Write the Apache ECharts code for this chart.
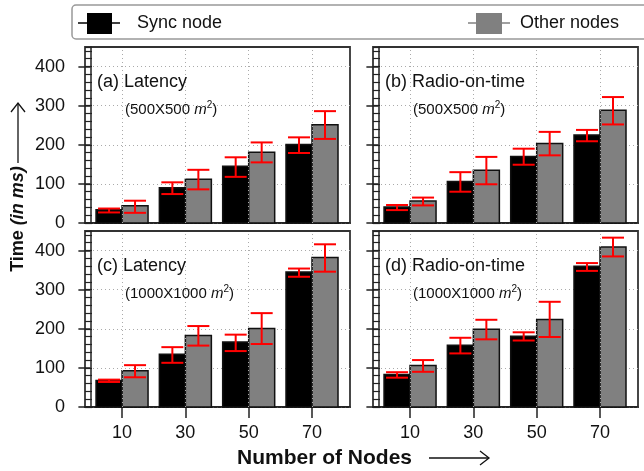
<!DOCTYPE html>
<html>
<head>
<meta charset="utf-8">
<script src="https://cdn.jsdelivr.net/npm/echarts@6/dist/echarts.min.js"></script>
<style>
  html, body { margin: 0; padding: 0; background: #fff; }
  #main { width: 644px; height: 471px; }
</style>
</head>
<body>
<div id="main"></div>
<script>
  // number of nodes (x positions)
  var nodes = [10, 30, 50, 70];
  var yTicks = [0, 100, 200, 300, 400];

  // (a) Latency 500x500
  var latSmallSync = [34, 90, 145, 201];
  var latSmallSyncErr = [[27, 37], [74, 104], [118, 168], [179, 219]];
  var latSmallOther = [44, 112, 181, 251];
  var latSmallOtherErr = [[26, 57], [86, 136], [155, 206], [215, 286]];

  // (b) Radio-on-time 500x500
  var radioSmallSync = [41, 106, 170, 225];
  var radioSmallSyncErr = [[33, 46], [80, 130], [149, 190], [209, 238]];
  var radioSmallOther = [56, 135, 203, 288];
  var radioSmallOtherErr = [[45, 65], [99, 169], [173, 233], [252, 322]];

  // (c) Latency 1000x1000
  var latBigSync = [68, 135, 166, 345];
  var latBigSyncErr = [[64, 70], [113, 153], [143, 185], [333, 354]];
  var latBigOther = [93, 183, 201, 382];
  var latBigOtherErr = [[76, 107], [157, 207], [161, 240], [346, 416]];

  // (d) Radio-on-time 1000x1000
  var radioBigSync = [83, 158, 181, 360];
  var radioBigSyncErr = [[75, 89], [137, 177], [170, 191], [348, 368]];
  var radioBigOther = [106, 199, 224, 409];
  var radioBigOtherErr = [[90, 120], [173, 223], [179, 269], [385, 433]];

  var panelTitles = ['(a) Latency', '(b) Radio-on-time', '(c) Latency', '(d) Radio-on-time'];
  var panelAreas = ['500X500', '500X500', '1000X1000', '1000X1000'];

  var FONT = 'Liberation Sans, Arial, sans-serif';

  // grid boxes: [left, top]
  var grids = [[85, 47], [373, 47], [85, 231], [373, 231]];
  var GW = 265, GH = 176;

  var panels = [
    [latSmallSync, latSmallSyncErr, latSmallOther, latSmallOtherErr],
    [radioSmallSync, radioSmallSyncErr, radioSmallOther, radioSmallOtherErr],
    [latBigSync, latBigSyncErr, latBigOther, latBigOtherErr],
    [radioBigSync, radioBigSyncErr, radioBigOther, radioBigOtherErr]
  ];

  function makeRows(mean, err) {
    return nodes.map(function (n, i) {
      return [n, mean[i], err[i][0], err[i][1]];
    });
  }

  // side: -1 = bar left of the tick, 1 = bar right of the tick
  function barRenderer(side, color) {
    return function (params, api) {
      var x = api.value(0);
      var base = api.coord([x, 0]);
      var top = api.coord([x, api.value(1)]);
      var lo = api.coord([x, api.value(2)]);
      var hi = api.coord([x, api.value(3)]);
      var w = 26;
      var x0 = side < 0 ? base[0] - w : base[0];
      var cx = x0 + w / 2;
      var cap = 11;
      var red = { stroke: '#ff0000', lineWidth: 2 };
      return {
        type: 'group',
        children: [
          { type: 'rect', shape: { x: x0, y: top[1], width: w, height: base[1] - top[1] },
            style: { fill: color, stroke: '#111', lineWidth: 1.5 } },
          { type: 'line', shape: { x1: cx, y1: lo[1], x2: cx, y2: hi[1] }, style: red },
          { type: 'line', shape: { x1: cx - cap, y1: lo[1], x2: cx + cap, y2: lo[1] }, style: red },
          { type: 'line', shape: { x1: cx - cap, y1: hi[1], x2: cx + cap, y2: hi[1] }, style: red }
        ]
      };
    };
  }

  var gridOpt = [], xAxes = [], yAxes = [], series = [], graphics = [];

  grids.forEach(function (g, i) {
    var isBottom = i >= 2, isLeft = i % 2 === 0;
    gridOpt.push({ left: g[0], top: g[1], width: GW, height: GH, show: true,
      borderColor: '#333', borderWidth: 1.8, backgroundColor: '#fff' });

    xAxes.push({
      type: 'value', gridIndex: i, min: -1.7, max: 82,
      axisLine: { show: true, lineStyle: { color: '#222', width: 1.5 } },
      axisTick: { show: isBottom, length: 11, customValues: nodes, lineStyle: { color: '#222', width: 1.5 } },
      axisLabel: { show: isBottom, customValues: nodes, margin: 17, color: '#111', fontSize: 18, fontFamily: FONT },
      splitLine: { show: false }
    });

    yAxes.push({
      type: 'value', gridIndex: i, min: 0, max: 450, interval: 100, position: 'left',
      axisLine: { show: true, lineStyle: { color: '#222', width: 1.5 } },
      axisTick: { show: true, length: 12, customValues: yTicks, lineStyle: { color: '#222', width: 1.5 } },
      axisLabel: { show: isLeft, customValues: yTicks, margin: 20, color: '#111', fontSize: 18, fontFamily: FONT },
      splitLine: { show: true, lineStyle: { color: '#aaa', type: [1, 3], width: 1 } }
    });
    yAxes.push({
      type: 'value', gridIndex: i, min: 0, max: 450, interval: 20, position: 'left', offset: 0,
      axisLine: { show: false },
      axisTick: { show: true, inside: true, length: 7, lineStyle: { color: '#222', width: 1.2 } },
      axisLabel: { show: false },
      splitLine: { show: false }
    });

    // vertical dotted grid lines at the node counts
    series.push({
      type: 'line', xAxisIndex: i, yAxisIndex: i * 2, data: [], z: 1, silent: true,
      markLine: {
        silent: true, symbol: 'none', label: { show: false },
        lineStyle: { color: '#aaa', type: [1, 3], width: 1 },
        data: nodes.map(function (n) { return { xAxis: n }; })
      }
    });

    var p = panels[i];
    series.push({
      name: 'Sync node', type: 'custom', xAxisIndex: i, yAxisIndex: i * 2,
      renderItem: barRenderer(-1, '#000'), encode: { x: 0, y: 1 },
      itemStyle: { color: '#000' }, data: makeRows(p[0], p[1]), z: 3
    });
    series.push({
      name: 'Other nodes', type: 'custom', xAxisIndex: i, yAxisIndex: i * 2,
      renderItem: barRenderer(1, '#808080'), encode: { x: 0, y: 1 },
      itemStyle: { color: '#808080' }, data: makeRows(p[2], p[3]), z: 3
    });

    graphics.push({
      type: 'text', left: g[0] + 12, top: g[1] + 26, z: 10,
      style: { text: panelTitles[i], fill: '#111', font: '18px ' + FONT }
    });
    graphics.push({
      type: 'text', left: g[0] + 40, top: g[1] + 53, z: 10,
      style: {
        text: '(' + panelAreas[i] + ' {i|m}{s|2})',
        fill: '#111', font: '15px ' + FONT,
        rich: {
          i: { fontStyle: 'italic', fontSize: 15, fontFamily: FONT, fill: '#111' },
          s: { fontSize: 10, fontFamily: FONT, fill: '#111', padding: [0, 0, 9, 0] }
        }
      }
    });
  });

  // legend box and entries
  graphics.push(
    { type: 'rect', shape: { x: 72, y: 5, width: 600, height: 34, r: 4 },
      style: { fill: '#fff', stroke: '#999', lineWidth: 1.5 } },
    { type: 'line', shape: { x1: 78, y1: 23, x2: 120, y2: 23 }, style: { stroke: '#000', lineWidth: 1.5 } },
    { type: 'rect', shape: { x: 87, y: 13, width: 25, height: 21 }, style: { fill: '#000' } },
    { type: 'text', x: 137, y: 23, style: { text: 'Sync node', fill: '#111', font: '18px ' + FONT, verticalAlign: 'middle' } },
    { type: 'line', shape: { x1: 468, y1: 23, x2: 510, y2: 23 }, style: { stroke: '#808080', lineWidth: 1.5 } },
    { type: 'rect', shape: { x: 476, y: 13, width: 26, height: 21 }, style: { fill: '#808080' } },
    { type: 'text', x: 520, y: 23, style: { text: 'Other nodes', fill: '#111', font: '18px ' + FONT, verticalAlign: 'middle' } }
  );

  // axis titles with arrows
  graphics.push(
    { type: 'text', x: 18, y: 219, rotation: Math.PI / 2,
      style: {
        text: '{b|Time }{bi|(in ms)}', align: 'center', verticalAlign: 'middle',
        rich: {
          b: { fontWeight: 'bold', fontSize: 18, fontFamily: FONT, fill: '#111' },
          bi: { fontWeight: 'bold', fontStyle: 'italic', fontSize: 18, fontFamily: FONT, fill: '#111' }
        }
      } },
    { type: 'line', shape: { x1: 18, y1: 163, x2: 18, y2: 103 }, style: { stroke: '#111', lineWidth: 1.3 } },
    { type: 'polyline', shape: { points: [[11, 112], [18, 103], [25, 112]] }, style: { stroke: '#111', lineWidth: 1.3, fill: null } },
    { type: 'text', x: 237, y: 458,
      style: { text: 'Number of Nodes', fill: '#111', font: 'bold 21px ' + FONT, verticalAlign: 'middle' } },
    { type: 'line', shape: { x1: 429, y1: 458, x2: 489, y2: 458 }, style: { stroke: '#111', lineWidth: 1.3 } },
    { type: 'polyline', shape: { points: [[480, 451], [489, 458], [480, 465]] }, style: { stroke: '#111', lineWidth: 1.3, fill: null } }
  );

  var option = {
    animation: false,
    backgroundColor: '#fff',
    grid: gridOpt,
    xAxis: xAxes,
    yAxis: yAxes,
    series: series,
    graphic: graphics
  };

  var myChart = echarts.init(document.getElementById('main'));
  myChart.setOption(option);
</script>
</body>
</html>
